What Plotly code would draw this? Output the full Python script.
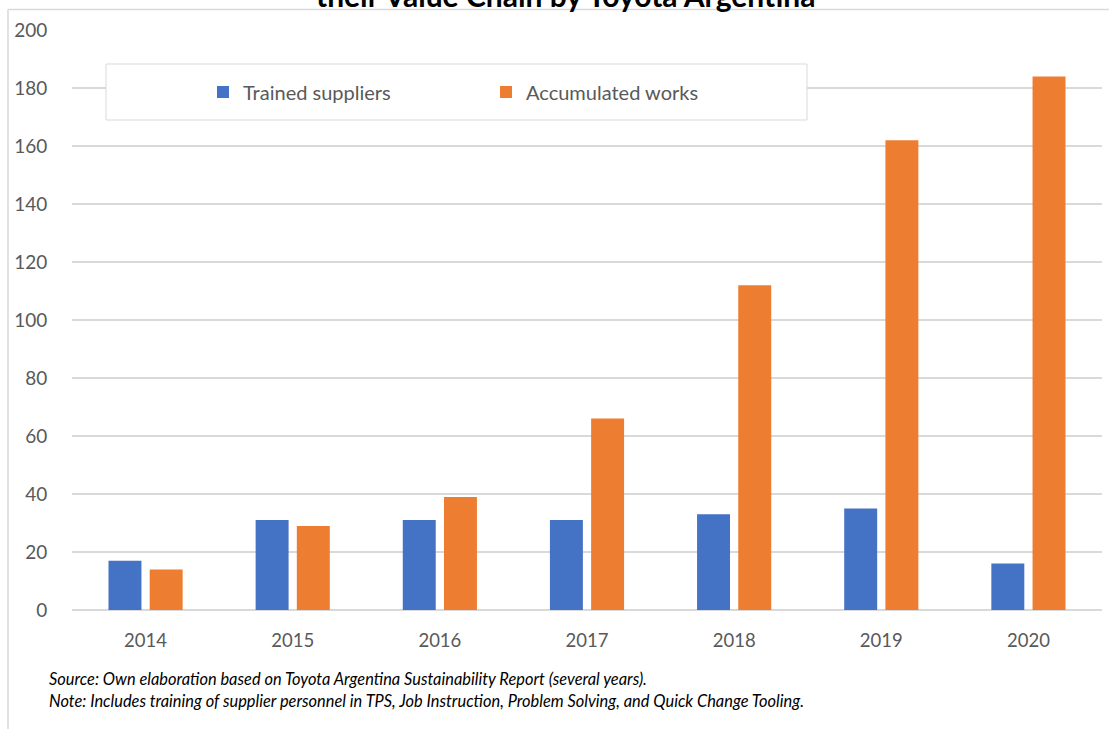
import plotly.graph_objects as go

# ---- data ----
years = ["2014", "2015", "2016", "2017", "2018", "2019", "2020"]
trained_suppliers = [17, 31, 31, 31, 33, 35, 16]
accumulated_works = [14, 29, 39, 66, 112, 162, 184]
y_tick_values = [0, 20, 40, 60, 80, 100, 120, 140, 160, 180, 200]
series_names = ["Trained suppliers", "Accumulated works"]
title_text = "their Value Chain by Toyota Argentina"
source_text = "Source: Own elaboration based on Toyota Argentina Sustainability Report (several years)."
note_text = "Note: Includes training of supplier personnel in TPS, Job Instruction, Problem Solving, and Quick Change Tooling."

# ---- layout geometry ----
W, H = 1109, 729
L, R, T, B = 72, 7, 30, 119
pw, ph = W - L - R, H - T - B


def px(x):
    return (x - L) / pw


def py(y):
    return (H - B - y) / ph


FONT = "Lato, 'Liberation Sans', sans-serif"
GRID = "#D9D9D9"
TXT = "#595959"

fig = go.Figure()
fig.add_trace(go.Bar(x=years, y=trained_suppliers, name=series_names[0],
                     marker=dict(color="#4472C4", line=dict(width=0))))
fig.add_trace(go.Bar(x=years, y=accumulated_works, name=series_names[1],
                     marker=dict(color="#ED7D31", line=dict(width=0))))

shapes = [
    # legend box
    dict(type="rect", xref="paper", yref="paper", x0=px(106), x1=px(807), y0=py(120), y1=py(64),
         fillcolor="white", line=dict(color=GRID, width=1), layer="above"),
    # outer frame lines
    dict(type="line", xref="paper", yref="paper", x0=px(8), x1=px(1109), y0=py(9.5), y1=py(9.5),
         line=dict(color=GRID, width=1.5)),
    dict(type="line", xref="paper", yref="paper", x0=px(8), x1=px(8), y0=py(9.5), y1=py(729),
         line=dict(color=GRID, width=1.5)),
]

annotations = [
    dict(text="<b>" + title_text + "</b>", xref="paper", yref="paper", x=px(565), y=py(-5.5),
         xanchor="center", yanchor="middle", showarrow=False,
         font=dict(family=FONT, size=30, color="black")),
    dict(text="<i>" + source_text + "</i>", xref="paper", yref="paper", x=px(47), y=py(678),
         xanchor="left", yanchor="middle", showarrow=False,
         font=dict(family=FONT, size=16.4, color="black")),
    dict(text="<i>" + note_text + "</i>", xref="paper", yref="paper", x=px(47), y=py(700),
         xanchor="left", yanchor="middle", showarrow=False,
         font=dict(family=FONT, size=16.4, color="black")),
]

fig.update_layout(
    width=W, height=H,
    margin=dict(l=L, r=R, t=T, b=B, pad=0),
    paper_bgcolor="white", plot_bgcolor="white",
    barmode="group", bargap=0.44, bargroupgap=0.2,
    font=dict(family=FONT, size=18, color=TXT),
    showlegend=True,
    legend=dict(orientation="h", x=px(203), y=py(92), xanchor="left", yanchor="middle",
                bgcolor="rgba(0,0,0,0)", borderwidth=0, entrywidth=238, entrywidthmode="pixels",
                font=dict(family=FONT, size=20, color=TXT), traceorder="normal"),
    shapes=shapes,
    annotations=annotations,
    xaxis=dict(showgrid=False, showline=False, zeroline=False, ticks="outside", ticklen=14,
               tickcolor="rgba(0,0,0,0)", tickfont=dict(family=FONT, size=18.5, color=TXT)),
    yaxis=dict(range=[0, 200], tickvals=y_tick_values, showgrid=True, gridcolor=GRID, gridwidth=1.5,
               zeroline=True, zerolinecolor=GRID, zerolinewidth=1.5, showline=False,
               ticks="outside", ticklen=20, tickcolor="rgba(0,0,0,0)",
               tickfont=dict(family=FONT, size=19, color=TXT)),
)

fig.write_html("out.html")
